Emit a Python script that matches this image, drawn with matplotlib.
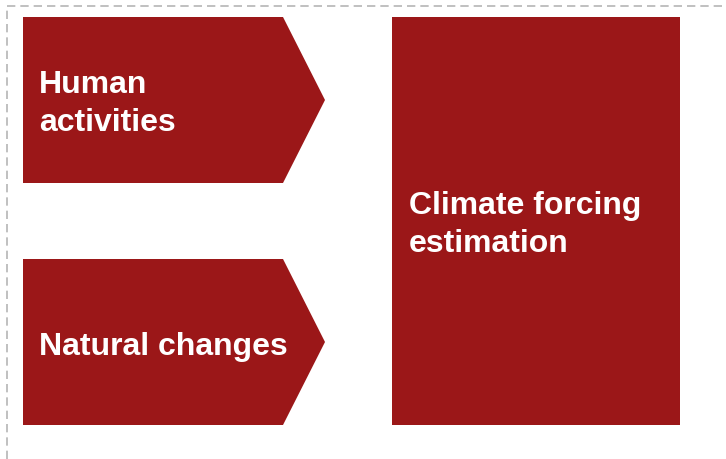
import matplotlib
matplotlib.use("Agg")
import matplotlib.pyplot as plt
from matplotlib.patches import Polygon, Rectangle

plt.rcParams['font.family'] = ['Liberation Sans', 'DejaVu Sans']

labels_left = ["Human\nactivities", "Natural changes"]
label_right = "Climate forcing\nestimation"
color = "#9B1718"

fig = plt.figure(figsize=(7.26, 4.60), dpi=100)
ax = fig.add_axes([0, 0, 1, 1])
ax.set_xlim(0, 726)
ax.set_ylim(460, 0)
ax.axis('off')

# dashed border
ax.plot([7, 7], [460, 6.5], ls=(0, (5, 3)), color='#B5B5B5', lw=1.2)
ax.plot([7, 726], [6.5, 6.5], ls=(0, (5, 3)), color='#B5B5B5', lw=1.2)

step = 38.5


def put_lines(x, first_baseline, text):
    for i, line in enumerate(text.split("\n")):
        ax.text(x, first_baseline + i * step, line, color='white', fontsize=23,
                fontweight='bold', va='baseline', ha='left')


# chevrons
tops = [18, 260]
first_baselines = [93, 355]
h = 166
for top, fb, lab in zip(tops, first_baselines, labels_left):
    mid = top + h / 2
    pts = [(23, top), (283, top), (325, mid), (283, top + h), (23, top + h)]
    ax.add_patch(Polygon(pts, closed=True, color=color, lw=0))
    put_lines(39, fb, lab)

ax.add_patch(Rectangle((392, 18), 288, 408, color=color, lw=0))
put_lines(409, 214, label_right)

fig.savefig("out.png", dpi=100)
